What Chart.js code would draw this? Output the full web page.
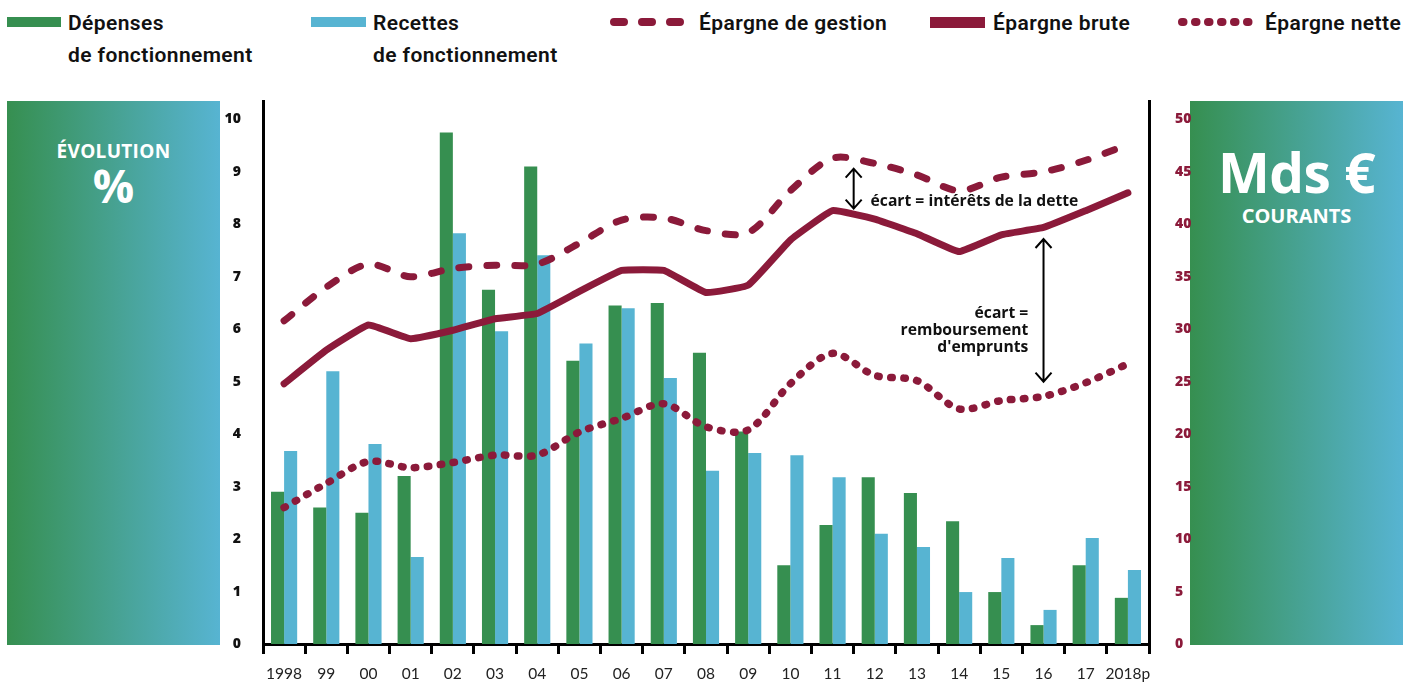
<!DOCTYPE html>
<html>
<head>
<meta charset="utf-8">
<script src="https://cdn.jsdelivr.net/npm/chart.js@4.4.1/dist/chart.umd.min.js"></script>
<style>
  body { margin: 0; background: #fff; width: 1420px; height: 684px; overflow: hidden; position: relative; font-family: "Open Sans", sans-serif; }
  .panel { position: absolute; top: 101px; width: 213px; height: 544px; background: linear-gradient(to right, #368f50, #57b4d2); color: #fff; text-align: center; font-weight: 700; }
  #chartWrap { position: absolute; left: 0; top: 0; width: 1420px; height: 684px; }
  .leg { position: absolute; top: 7px; font-family: Roboto, sans-serif; font-weight: 600; font-size: 21px; line-height: 32px; color: #111; letter-spacing: 0.4px; }
  .sw { position: absolute; }
</style>
</head>
<body>
<div class="panel" style="left:7px">
  <div style="position:absolute;top:37px;width:100%;font-size:19px;letter-spacing:0.3px">ÉVOLUTION</div>
  <div style="position:absolute;top:55px;width:100%;font-size:46px;line-height:58px">%</div>
</div>
<div class="panel" style="left:1190px">
  <div style="position:absolute;top:35px;width:100%;font-size:55px;line-height:72px;letter-spacing:-0.5px">Mds €</div>
  <div style="position:absolute;top:101px;width:100%;font-size:20px">COURANTS</div>
</div>

<div class="sw" style="left:7px;top:17px;width:54px;height:10px;background:#368f50"></div>
<div class="leg" style="left:68px">Dépenses<br>de fonctionnement</div>
<div class="sw" style="left:311px;top:17px;width:55px;height:10px;background:#57b4d2"></div>
<div class="leg" style="left:373px">Recettes<br>de fonctionnement</div>
<canvas class="sw" id="lg1" width="90" height="20" style="left:606px;top:12px"></canvas>
<div class="leg" style="left:699px">Épargne de gestion</div>
<div class="sw" style="left:930px;top:17px;width:55px;height:11px;background:#8b1a3a"></div>
<div class="leg" style="left:993px">Épargne brute</div>
<canvas class="sw" id="lg2" width="90" height="20" style="left:1174px;top:12px"></canvas>
<div class="leg" style="left:1265px">Épargne nette</div>

<div id="chartWrap"><canvas id="chart" width="1420" height="684"></canvas></div>

<script>
// years on the x axis
const years = ['1998', '99', '00', '01', '02', '03', '04', '05', '06', '07', '08', '09', '10', '11', '12', '13', '14', '15', '16', '17', '2018p'];

// evolution in % (left axis)
const depenses = [2.9, 2.6, 2.5, 3.2, 9.75, 6.75, 9.1, 5.4, 6.45, 6.5, 5.55, 4.05, 1.5, 2.27, 3.18, 2.88, 2.34, 0.99, 0.36, 1.5, 0.88];
const recettes = [3.68, 5.2, 3.81, 1.66, 7.83, 5.96, 7.41, 5.73, 6.4, 5.07, 3.3, 3.64, 3.6, 3.18, 2.1, 1.85, 0.99, 1.64, 0.65, 2.02, 1.41];

// Mds € courants (right axis)
const epargneGestion = [30.8, 34.0, 36.2, 35.0, 35.8, 36.1, 36.2, 38.2, 40.4, 40.6, 39.4, 39.2, 43.2, 46.3, 45.8, 44.7, 43.2, 44.5, 45.0, 46.1, 47.6];
const epargneBrute = [24.8, 28.0, 30.4, 29.1, 29.9, 31.0, 31.5, 33.6, 35.6, 35.6, 33.5, 34.2, 38.5, 41.3, 40.5, 39.1, 37.4, 39.0, 39.7, 41.3, 43.0];
const epargneNette = [13.0, 15.3, 17.4, 16.8, 17.3, 18.0, 18.0, 20.2, 21.5, 22.9, 20.7, 20.4, 24.8, 27.7, 25.6, 25.1, 22.4, 23.2, 23.6, 24.9, 26.7];

const leftTicks = [0, 1, 2, 3, 4, 5, 6, 7, 8, 9, 10];
const rightTicks = [0, 5, 10, 15, 20, 25, 30, 35, 40, 45, 50];

const green = '#368f50', blue = '#57b4d2', wine = '#8b1a3a';

// legend swatches for the dashed / dotted lines
function swatch(id, dash) {
    const c = document.getElementById(id).getContext('2d');
    c.strokeStyle = wine; c.lineWidth = 8; c.lineCap = 'round';
    c.setLineDash(dash);
    c.beginPath(); c.moveTo(8, 10); c.lineTo(82, 10); c.stroke();
}
swatch('lg1', [10, 18]);
swatch('lg2', [1.5, 11.5]);

// arrows and notes
const notes = {
    id: 'notes',
    afterDatasetsDraw(chart) {
        const c = chart.ctx, x = chart.scales.x, y = chart.scales.y1;
        function arrow(xi, v1, v2) {
            const px = x.getPixelForValue(xi), a = y.getPixelForValue(v1), b = y.getPixelForValue(v2);
            c.save();
            c.strokeStyle = '#000'; c.lineWidth = 2;
            c.beginPath();
            c.moveTo(px, a); c.lineTo(px, b);
            c.moveTo(px - 8, a + 9); c.lineTo(px, a); c.lineTo(px + 8, a + 9);
            c.moveTo(px - 8, b - 9); c.lineTo(px, b); c.lineTo(px + 8, b - 9);
            c.stroke();
            c.restore();
        }
        arrow(13.5, 45.3, 41.5);
        arrow(18, 38.6, 25.0);
        c.save();
        c.fillStyle = '#111';
        c.font = '700 15.7px "Open Sans"';
        c.textBaseline = 'middle';
        c.textAlign = 'left';
        c.fillText('écart = intérêts de la dette', x.getPixelForValue(13.9), y.getPixelForValue(42.2));
        c.textAlign = 'right';
        const tx = x.getPixelForValue(17.64);
        c.fillText('écart =', tx, y.getPixelForValue(31.5));
        c.fillText('remboursement', tx, y.getPixelForValue(29.9));
        c.fillText("d'emprunts", tx, y.getPixelForValue(28.3));
        c.restore();
    }
};

const lineBase = { type: 'line', yAxisID: 'y1', borderColor: wine, borderWidth: 7, pointRadius: 0, tension: 0.3, borderCapStyle: 'round', borderJoinStyle: 'round', order: 0, fill: false };

new Chart(document.getElementById('chart').getContext('2d'), {
    type: 'bar',
    data: {
        labels: years,
        datasets: [
            { label: 'Dépenses de fonctionnement', data: depenses, backgroundColor: green, yAxisID: 'y', order: 1 },
            { label: 'Recettes de fonctionnement', data: recettes, backgroundColor: blue, yAxisID: 'y', order: 1 },
            Object.assign({}, lineBase, { label: 'Épargne de gestion', data: epargneGestion, borderDash: [10, 18] }),
            Object.assign({}, lineBase, { label: 'Épargne brute', data: epargneBrute, tension: 0.1 }),
            Object.assign({}, lineBase, { label: 'Épargne nette', data: epargneNette, borderDash: [1.5, 11.5], borderWidth: 7.5 })
        ]
    },
    options: {
        responsive: false,
        animation: false,
        layout: { padding: { left: 223, right: 221, top: 101, bottom: 0 } },
        datasets: { bar: { categoryPercentage: 0.62, barPercentage: 1 } },
        plugins: { legend: { display: false }, tooltip: { enabled: false } },
        scales: {
            x: {
                offset: true,
                afterFit: s => { s.height = 40; },
                border: { color: '#000', width: 3 },
                grid: { drawOnChartArea: false, drawTicks: true, tickLength: 10, color: '#000', lineWidth: 3, offset: true },
                ticks: { color: '#222', font: { family: 'Lato', size: 15.5 }, padding: 11, maxRotation: 0, autoSkip: false }
            },
            y: {
                position: 'left',
                min: 0, max: 10.35,
                afterFit: s => { s.width = 40; },
                afterBuildTicks: s => { s.ticks = leftTicks.map(v => ({ value: v })); },
                border: { color: '#000', width: 3 },
                grid: { display: false },
                ticks: { color: '#111', font: { family: 'Open Sans', size: 14, weight: '800' }, padding: 14 }
            },
            y1: {
                position: 'right',
                min: 0, max: 51.75,
                afterFit: s => { s.width = 50; },
                afterBuildTicks: s => { s.ticks = rightTicks.map(v => ({ value: v })); },
                border: { color: '#000', width: 3 },
                grid: { display: false },
                ticks: { color: wine, font: { family: 'Open Sans', size: 14, weight: '800' }, padding: 18 }
            }
        }
    },
    plugins: [notes]
});
</script>
</body>
</html>
